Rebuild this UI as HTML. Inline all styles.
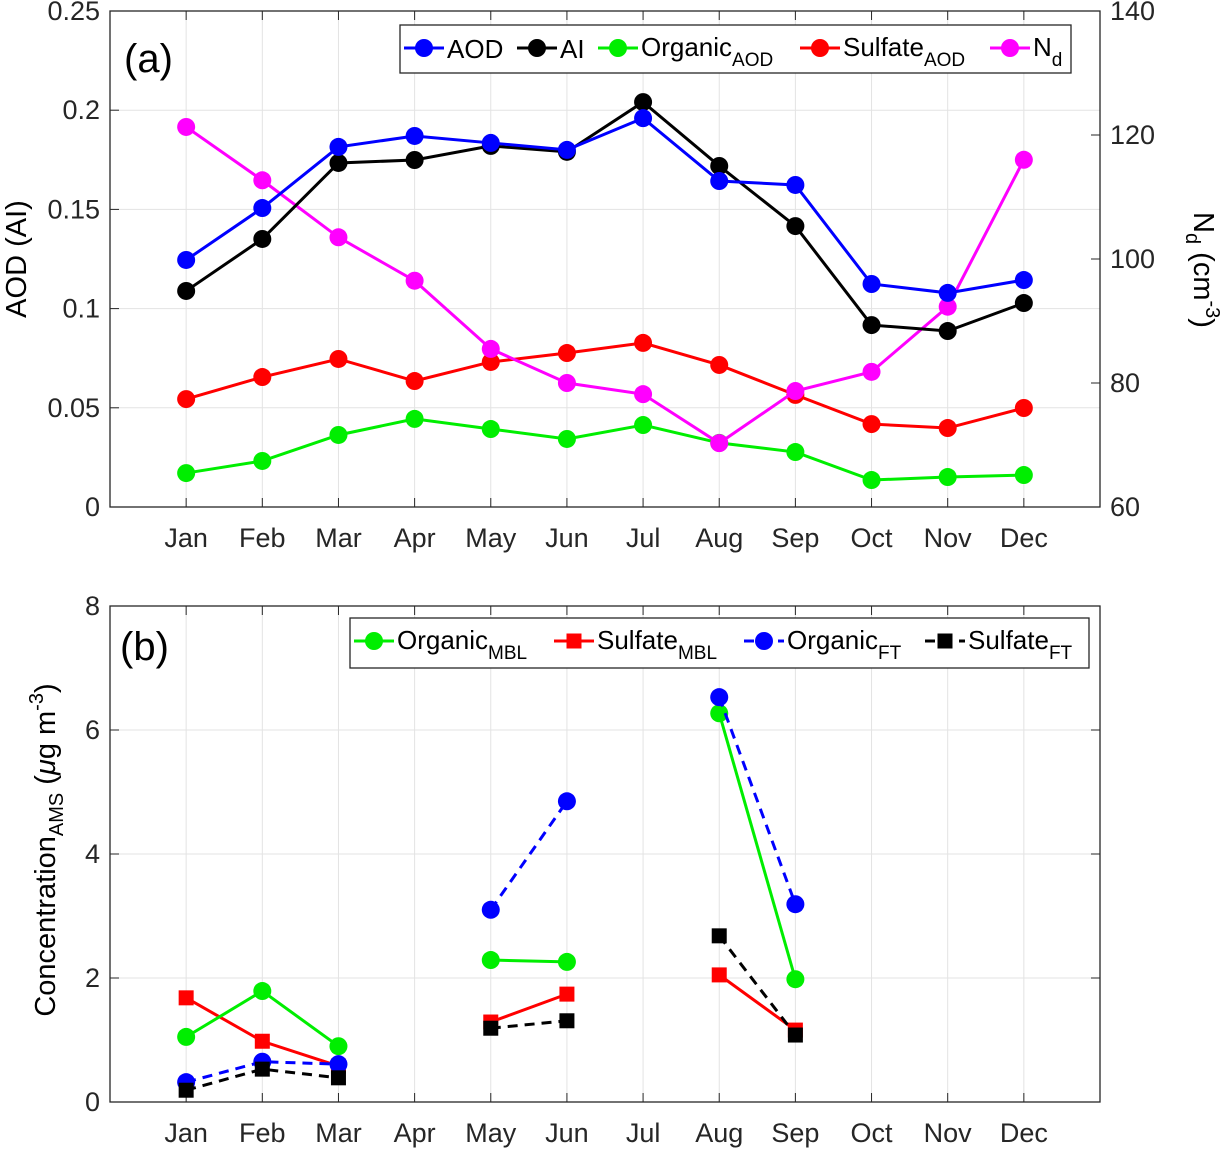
<!DOCTYPE html>
<html><head><meta charset="utf-8"><style>
body{margin:0;background:#fff}
svg{font-family:"Liberation Sans",Arial,sans-serif}
</style></head><body>
<svg id="c" width="1227" height="1151" viewBox="0 0 1227 1151" xmlns="http://www.w3.org/2000/svg"></svg>
<script>
const months=["Jan","Feb","Mar","Apr","May","Jun","Jul","Aug","Sep","Oct","Nov","Dec"];
const aod=[0.1245,0.1507,0.1815,0.187,0.1835,0.180,0.196,0.1643,0.1623,0.1124,0.1079,0.1144];
const ai=[0.1089,0.1351,0.1734,0.1749,0.182,0.179,0.2041,0.1719,0.1416,0.0917,0.0887,0.1028];
const orgAod=[0.0171,0.0232,0.0363,0.0444,0.0393,0.0343,0.0413,0.0323,0.0277,0.0136,0.0151,0.0161];
const sulAod=[0.0544,0.0655,0.0746,0.0635,0.0731,0.0776,0.0827,0.0716,0.0565,0.0418,0.0398,0.0499];
const nd=[121.3,112.7,103.5,96.5,85.5,80.0,78.2,70.3,78.7,81.8,92.3,116];
const orgMbl=[1.05,1.79,0.90,null,2.29,2.26,null,6.27,1.98,null,null,null];
const sulMbl=[1.68,0.98,0.58,null,1.29,1.74,null,2.05,1.16,null,null,null];
const orgFt=[0.32,0.65,0.61,null,3.10,4.85,null,6.53,3.19,null,null,null];
const sulFt=[0.19,0.53,0.39,null,1.19,1.31,null,2.68,1.08,null,null,null];
const leftTicksA=[0,0.05,0.1,0.15,0.2,0.25];
const leftTickLabelsA=["0","0.05","0.1","0.15","0.2","0.25"];
const rightTicksA=[60,80,100,120,140];
const ticksB=[0,2,4,6,8];

const svg=document.getElementById('c');
const NS="http://www.w3.org/2000/svg";
function mk(t,a,p){const e=document.createElementNS(NS,t);for(const k in a)e.setAttribute(k,a[k]);(p||svg).appendChild(e);return e;}
const X0=110,X1=1100;
const xs=i=>X0+(i+1)*(X1-X0)/13;
function panel(top,bot){return {top,bot};}
const A={top:11,bot:507},B={top:606,bot:1102};
const yA=v=>A.bot-v/0.25*(A.bot-A.top);
const yN=v=>A.bot-(v-60)/80*(A.bot-A.top);
const yB=v=>B.bot-v/8*(B.bot-B.top);

function frame(P,name){
  const g=mk('g',{});
  
  
  for(let i=0;i<12;i++){const l=mk('line',{x1:xs(i),x2:xs(i),y1:P.top,y2:P.bot,stroke:'#e3e3e3','stroke-width':1},g);}
  return g;
}
function hgrid(g,ys){ys.forEach(y=>mk('line',{x1:X0,x2:X1,y1:y,y2:y,stroke:'#e3e3e3','stroke-width':1},g));}
function box(P,g){
  mk('rect',{x:X0,y:P.top,width:X1-X0,height:P.bot-P.top,fill:'none',stroke:'#262626','stroke-width':1.3},g);
  for(let i=0;i<12;i++){
    mk('line',{x1:xs(i),x2:xs(i),y1:P.bot,y2:P.bot-9,stroke:'#262626'},g);
    mk('line',{x1:xs(i),x2:xs(i),y1:P.top,y2:P.top+9,stroke:'#262626'},g);
    const t=mk('text',{x:xs(i),y:P.bot+40,'text-anchor':'middle','font-size':27,fill:'#262626'},g);t.textContent=months[i];
    
    
  }
}
function series(vals,yf,color,marker,dash,name){
  const g=mk('g',{});
  
  
  let seg=[];const segs=[];
  vals.forEach((v,i)=>{if(v===null){if(seg.length)segs.push(seg);seg=[];}else seg.push([xs(i),yf(v)]);});
  if(seg.length)segs.push(seg);
  segs.forEach(s=>{if(s.length>1)mk('polyline',{points:s.map(p=>p.join(',')).join(' '),fill:'none',stroke:color,'stroke-width':3,'stroke-dasharray':dash?'10,7':'none'},g);});
  vals.forEach((v,i)=>{if(v===null)return;
    if(marker==='o')mk('circle',{cx:xs(i),cy:yf(v),r:9,fill:color},g);
    else mk('rect',{x:xs(i)-7.5,y:yf(v)-7.5,width:15,height:15,fill:color},g);});
}
// Panel A
const gA=frame(A,'panel-a');
hgrid(gA,leftTicksA.map(yA));
box(A,gA);
leftTicksA.forEach((v,i)=>{const y=yA(v);
  mk('line',{x1:X0,x2:X0+9,y1:y,y2:y,stroke:'#262626'},gA);
  const t=mk('text',{x:X0-10,y:y+9,'text-anchor':'end','font-size':27,fill:'#262626'},gA);t.textContent=leftTickLabelsA[i];
  });
rightTicksA.forEach(v=>{const y=yN(v);
  mk('line',{x1:X1-9,x2:X1,y1:y,y2:y,stroke:'#262626'},gA);
  const t=mk('text',{x:X1+10,y:y+9,'font-size':27,fill:'#262626'},gA);t.textContent=v;
  });
series(orgAod,yA,'#00ee00','o',false,'organic-aod-series');
series(sulAod,yA,'#ff0000','o',false,'sulfate-aod-series');
series(nd,yN,'#ff00ff','o',false,'nd-series');
series(ai,yA,'#000000','o',false,'ai-series');
series(aod,yA,'#0000ff','o',false,'aod-series');
// Panel B
const gB=frame(B,'panel-b');
hgrid(gB,ticksB.map(yB));
box(B,gB);
ticksB.forEach(v=>{const y=yB(v);
  mk('line',{x1:X0,x2:X0+9,y1:y,y2:y,stroke:'#262626'},gB);
  mk('line',{x1:X1-9,x2:X1,y1:y,y2:y,stroke:'#262626'},gB);
  const t=mk('text',{x:X0-10,y:y+9,'text-anchor':'end','font-size':27,fill:'#262626'},gB);t.textContent=v;
  });
series(sulMbl,yB,'#ff0000','s',false,'sulfate-mbl-series');
series(orgMbl,yB,'#00ee00','o',false,'organic-mbl-series');
series(orgFt,yB,'#0000ff','o',true,'organic-ft-series');
series(sulFt,yB,'#000000','s',true,'sulfate-ft-series');
</script>
<svg width="1227" height="1151" style="position:absolute;left:0;top:0" xmlns="http://www.w3.org/2000/svg">
<g font-family="Liberation Sans, Arial, sans-serif" fill="#000">
<text x="124" y="72" font-size="40">(a)</text>
<text x="120" y="660" font-size="40">(b)</text>
<text transform="translate(26,259) rotate(-90)" text-anchor="middle" font-size="29">AOD (AI)</text>
<text transform="translate(1194,270) rotate(90)" text-anchor="middle" font-size="29">N<tspan font-size="20" dy="8">d</tspan><tspan dy="-8"> (cm</tspan><tspan font-size="20" dy="-12">-3</tspan><tspan dy="12">)</tspan></text>
<text transform="translate(55,850) rotate(-90)" text-anchor="middle" font-size="29">Concentration<tspan font-size="20" dy="8">AMS</tspan><tspan dy="-8"> (</tspan><tspan font-style="italic">μ</tspan>g m<tspan font-size="20" dy="-12">-3</tspan><tspan dy="12">)</tspan></text>
</g>
<g font-family="Liberation Sans, Arial, sans-serif" font-size="26">
<rect x="400" y="25" width="671" height="48" fill="#fff" stroke="#262626" stroke-width="1.3"/>
<line x1="404" x2="444" y1="48" y2="48" stroke="#0000ff" stroke-width="3"/><circle cx="424" cy="48" r="9" fill="#0000ff"/><text x="447" y="58">AOD</text>
<line x1="517" x2="557" y1="48" y2="48" stroke="#000" stroke-width="3"/><circle cx="537" cy="48" r="9" fill="#000"/><text x="560" y="58">AI</text>
<line x1="598" x2="638" y1="48" y2="48" stroke="#00ee00" stroke-width="3"/><circle cx="618" cy="48" r="9" fill="#00ee00"/><text x="641" y="56">Organic<tspan font-size="19" dy="10">AOD</tspan></text>
<line x1="800" x2="840" y1="48" y2="48" stroke="#f00" stroke-width="3"/><circle cx="820" cy="48" r="9" fill="#f00"/><text x="843" y="56">Sulfate<tspan font-size="19" dy="10">AOD</tspan></text>
<line x1="990" x2="1030" y1="48" y2="48" stroke="#f0f" stroke-width="3"/><circle cx="1010" cy="48" r="9" fill="#f0f"/><text x="1033" y="56">N<tspan font-size="19" dy="10">d</tspan></text>
</g>
<g font-family="Liberation Sans, Arial, sans-serif" font-size="26">
<rect x="350" y="618" width="739" height="50" fill="#fff" stroke="#262626" stroke-width="1.3"/>
<line x1="354" x2="394" y1="641" y2="641" stroke="#00ee00" stroke-width="3"/><circle cx="374" cy="641" r="9" fill="#00ee00"/><text x="397" y="649">Organic<tspan font-size="19" dy="10">MBL</tspan></text>
<line x1="554" x2="594" y1="641" y2="641" stroke="#f00" stroke-width="3"/><rect x="566.5" y="633.5" width="15" height="15" fill="#f00"/><text x="597" y="649">Sulfate<tspan font-size="19" dy="10">MBL</tspan></text>
<line x1="744" x2="784" y1="641" y2="641" stroke="#00f" stroke-width="3" stroke-dasharray="10,7"/><circle cx="764" cy="641" r="9" fill="#00f"/><text x="787" y="649">Organic<tspan font-size="19" dy="10">FT</tspan></text>
<line x1="925" x2="965" y1="641" y2="641" stroke="#000" stroke-width="3" stroke-dasharray="10,7"/><rect x="937.5" y="633.5" width="15" height="15" fill="#000"/><text x="968" y="649">Sulfate<tspan font-size="19" dy="10">FT</tspan></text>
</g>
</svg>
</body></html>
